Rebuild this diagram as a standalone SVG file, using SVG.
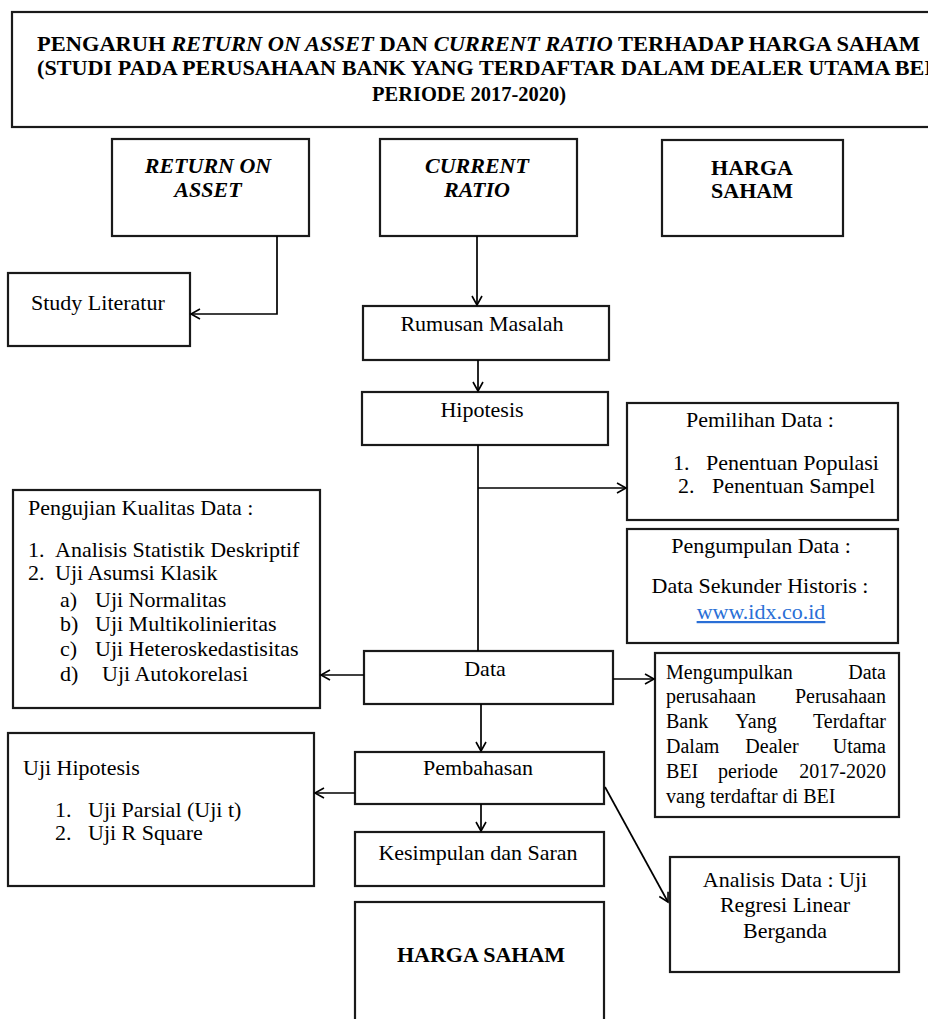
<svg xmlns="http://www.w3.org/2000/svg" width="928" height="1019" viewBox="0 0 928 1019">
<defs>
<marker id="ah" markerWidth="12" markerHeight="12" refX="10" refY="6" orient="auto" markerUnits="userSpaceOnUse">
<path d="M1,1 L10,6 L1,11" fill="none" stroke="#000" stroke-width="1.6"/>
</marker>
<style>
.box{fill:#fff;stroke:#1a1a1a;stroke-width:2.2}
.t{font-family:"Liberation Serif","Times New Roman",serif;font-size:22px;fill:#000}
.s{font-size:20px}
.b{font-weight:bold}
.i{font-style:italic}
.c{text-anchor:middle}
.e{text-anchor:end}
.ttl{font-family:"Liberation Serif","Times New Roman",serif;font-size:20px;font-weight:bold;fill:#000}
.ln{fill:none;stroke:#000;stroke-width:1.7}
.lnk{fill:#2a6fd6;text-decoration:underline}
</style>
</defs>
<rect width="928" height="1019" fill="#fff"/>

<g id="title">
<rect class="box" x="12" y="12" width="930" height="115"/>
<text class="ttl" x="37" y="51" textLength="883" lengthAdjust="spacingAndGlyphs">PENGARUH <tspan font-style="italic">RETURN ON ASSET</tspan> DAN <tspan font-style="italic">CURRENT RATIO</tspan> TERHADAP HARGA SAHAM</text>
<text class="ttl" x="37" y="75" textLength="896" lengthAdjust="spacingAndGlyphs">(STUDI PADA  PERUSAHAAN BANK YANG TERDAFTAR DALAM DEALER UTAMA BEI</text>
<text class="ttl" x="372" y="101" textLength="194" lengthAdjust="spacingAndGlyphs">PERIODE 2017-2020)</text>
</g>

<g id="roa">
<rect class="box" x="112" y="139" width="197" height="97"/>
<text class="t b i c" x="208" y="173">RETURN ON</text>
<text class="t b i c" x="208" y="197">ASSET</text>
</g>
<g id="cr">
<rect class="box" x="380" y="139" width="197" height="97"/>
<text class="t b i c" x="477" y="173">CURRENT</text>
<text class="t b i c" x="477" y="197">RATIO</text>
</g>
<g id="hs-top">
<rect class="box" x="662" y="140" width="181" height="96"/>
<text class="t b c" x="752" y="175">HARGA</text>
<text class="t b c" x="752" y="198">SAHAM</text>
</g>

<g id="study">
<rect class="box" x="8" y="273" width="182" height="73"/>
<text class="t" x="31" y="310">Study Literatur</text>
</g>

<g id="rumusan">
<rect class="box" x="363" y="306" width="246" height="54"/>
<text class="t c" x="482" y="331">Rumusan Masalah</text>
</g>

<g id="hipotesis">
<rect class="box" x="362" y="392" width="246" height="53"/>
<text class="t c" x="482" y="417">Hipotesis</text>
</g>

<g id="pemilihan">
<rect class="box" x="627" y="403" width="271" height="117"/>
<text class="t c" x="760" y="427">Pemilihan Data :</text>
<text class="t" x="673" y="470">1.</text><text class="t" x="706" y="470">Penentuan Populasi</text>
<text class="t" x="678" y="493">2.</text><text class="t" x="712" y="493">Penentuan Sampel</text>
</g>

<g id="pengumpulan">
<rect class="box" x="627" y="529" width="271" height="114"/>
<text class="t c" x="761" y="553">Pengumpulan Data :</text>
<text class="t c" x="760" y="593">Data Sekunder Historis :</text>
<text class="t c lnk" x="761" y="619">www.idx.co.id</text>
</g>

<g id="pengujian">
<rect class="box" x="13" y="490" width="307" height="218"/>
<text class="t" x="28" y="515">Pengujian Kualitas Data  :</text>
<text class="t" x="28" y="557">1.</text><text class="t" x="55" y="557">Analisis Statistik Deskriptif</text>
<text class="t" x="28" y="580">2.</text><text class="t" x="55" y="580">Uji Asumsi Klasik</text>
<text class="t" x="60" y="607">a)</text><text class="t" x="95" y="607">Uji Normalitas</text>
<text class="t" x="60" y="631">b)</text><text class="t" x="95" y="631">Uji Multikolinieritas</text>
<text class="t" x="60" y="656">c)</text><text class="t" x="95" y="656">Uji Heteroskedastisitas</text>
<text class="t" x="60" y="681">d)</text><text class="t" x="102" y="681">Uji Autokorelasi</text>
</g>

<g id="data">
<rect class="box" x="364" y="651" width="249" height="53"/>
<text class="t c" x="485" y="676">Data</text>
</g>

<g id="mengumpulkan">
<rect class="box" x="655" y="653" width="244" height="164"/>
<text class="t s" x="666" y="679">Mengumpulkan</text><text class="t s e" x="886" y="679">Data</text>
<text class="t s" x="666" y="703">perusahaan</text><text class="t s e" x="886" y="703">Perusahaan</text>
<text class="t s" x="666" y="728">Bank</text><text class="t s c" x="756" y="728">Yang</text><text class="t s e" x="886" y="728">Terdaftar</text>
<text class="t s" x="666" y="753">Dalam</text><text class="t s c" x="772" y="753">Dealer</text><text class="t s e" x="886" y="753">Utama</text>
<text class="t s" x="666" y="778">BEI</text><text class="t s c" x="748" y="778">periode</text><text class="t s e" x="886" y="778">2017-2020</text>
<text class="t s" x="666" y="803">vang terdaftar di BEI</text>
</g>

<g id="ujihipotesis">
<rect class="box" x="8" y="733" width="306" height="153"/>
<text class="t" x="23" y="775">Uji Hipotesis</text>
<text class="t" x="55" y="817">1.</text><text class="t" x="88" y="817">Uji Parsial (Uji t)</text>
<text class="t" x="55" y="840">2.</text><text class="t" x="88" y="840">Uji R Square</text>
</g>

<g id="pembahasan">
<rect class="box" x="355" y="752" width="249" height="52"/>
<text class="t c" x="478" y="775">Pembahasan</text>
</g>

<g id="kesimpulan">
<rect class="box" x="355" y="832" width="249" height="54"/>
<text class="t c" x="478" y="860">Kesimpulan dan Saran</text>
</g>

<g id="analisis">
<rect class="box" x="670" y="857" width="229" height="115"/>
<text class="t c" x="785" y="887">Analisis Data : Uji</text>
<text class="t c" x="785" y="912">Regresi Linear</text>
<text class="t c" x="785" y="938">Berganda</text>
</g>

<g id="hs-bottom">
<rect class="box" x="355" y="902" width="249" height="130"/>
<text class="t b c" x="481" y="962">HARGA SAHAM</text>
</g>

<g id="connectors">
<path class="ln" d="M277,236 V314 H191" marker-end="url(#ah)"/>
<path class="ln" d="M477,236 V305" marker-end="url(#ah)"/>
<path class="ln" d="M478,360 V391" marker-end="url(#ah)"/>
<path class="ln" d="M478,445 V651"/>
<path class="ln" d="M478,488 H626" marker-end="url(#ah)"/>
<path class="ln" d="M364,675 H321" marker-end="url(#ah)"/>
<path class="ln" d="M613,679 H654" marker-end="url(#ah)"/>
<path class="ln" d="M481,704 V751" marker-end="url(#ah)"/>
<path class="ln" d="M355,793 H315" marker-end="url(#ah)"/>
<path class="ln" d="M481,804 V831" marker-end="url(#ah)"/>
<path class="ln" d="M605,787 L668,902" marker-end="url(#ah)"/>
</g>
</svg>
